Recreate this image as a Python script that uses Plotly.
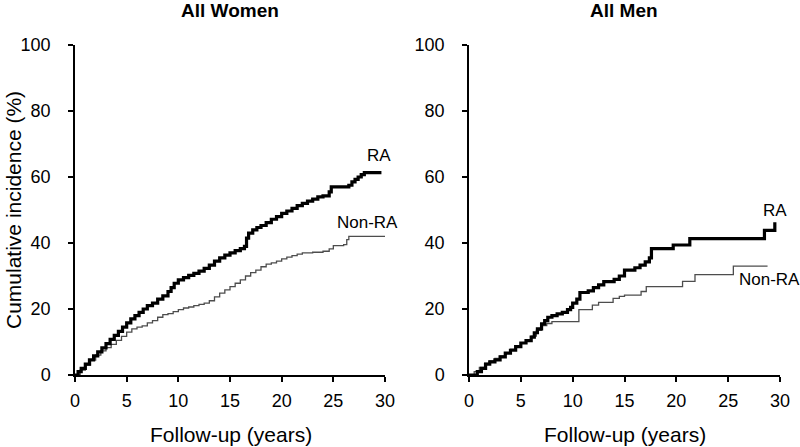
import plotly.graph_objects as go
from plotly.subplots import make_subplots

# %% Data (cumulative incidence, step points)
women_ra_t = [0, 0.3, 0.6, 1.0, 1.4, 1.8, 2.2, 2.6, 3.0, 3.4, 3.8, 4.2, 4.6, 5.0, 5.4, 5.8, 6.2, 6.6,
              7.0, 7.5, 8.0, 8.5, 9.0, 9.3, 9.6, 10.0, 10.5, 11.0, 11.5, 12.0, 12.5, 13.0, 13.5, 14.0,
              14.5, 15.0, 15.5, 16.0, 16.4, 16.6, 16.8, 17.2, 17.6, 18.0, 18.5, 19.0, 19.5, 20.0, 20.5,
              21.0, 21.5, 22.0, 22.5, 23.0, 23.5, 24.0, 24.6, 24.8, 25.5, 26.5, 26.8, 27.1, 27.4, 27.7,
              28.0, 29.4, 29.5]
women_ra_y = [0, 1.0, 2.0, 3.3, 4.6, 5.8, 7.0, 8.2, 9.5, 10.8, 12.0, 13.2, 14.5, 15.8, 17.0, 18.0, 19.0, 20.0,
              21.0, 21.8, 23.0, 24.0, 25.3, 26.5, 27.8, 28.8, 29.5, 30.2, 30.8, 31.5, 32.3, 33.3, 34.5, 35.5,
              36.3, 37.0, 37.7, 38.3, 39.0, 41.5, 43.0, 44.0, 44.7, 45.3, 46.2, 47.2, 48.0, 49.0, 49.7,
              50.5, 51.3, 52.0, 52.7, 53.3, 54.0, 54.3, 55.5, 57.0, 57.0, 57.5, 58.5, 59.3, 60.0, 60.7,
              61.3, 61.3, 61.8]

women_nonra_t = [0, 0.5, 1.0, 1.5, 2.0, 2.5, 3.0, 3.5, 4.0, 4.5, 5.0, 5.5, 6.0, 6.5, 7.0, 7.5, 8.0, 8.5, 9.0,
                 9.5, 10.0, 10.5, 11.0, 11.5, 12.0, 12.5, 13.0, 13.5, 14.0, 14.5, 15.0, 15.5, 16.0, 16.5,
                 17.0, 17.5, 18.0, 18.5, 19.0, 19.5, 20.0, 20.5, 21.0, 21.5, 22.0, 23.0, 24.0, 24.6, 25.0,
                 26.0, 26.3, 26.5, 30.0]
women_nonra_y = [0, 1.5, 3.0, 4.5, 6.0, 7.3, 8.3, 9.3, 10.5, 11.7, 13.0, 14.0, 14.5, 14.9, 15.8, 16.5, 17.5,
                 18.3, 18.6, 19.2, 19.8, 20.3, 20.6, 21.0, 21.4, 21.8, 22.5, 23.7, 24.8, 25.8, 26.8, 27.8,
                 28.8, 30.0, 31.0, 31.8, 32.8, 33.6, 34.0, 34.5, 35.2, 35.7, 36.2, 36.6, 37.0, 37.2, 37.5,
                 38.2, 39.2, 39.5, 41.0, 42.0, 42.0]

men_ra_t = [0, 0.5, 0.8, 1.2, 1.6, 2.0, 2.5, 3.0, 3.5, 4.0, 4.5, 5.0, 5.5, 6.0, 6.3, 6.6, 7.0, 7.3, 7.6,
            8.0, 8.5, 9.0, 9.5, 9.8, 10.0, 10.4, 10.7, 11.5, 12.0, 12.5, 13.0, 14.0, 14.5, 15.0, 16.0,
            16.5, 17.0, 17.4, 17.6, 19.7, 21.3, 28.5, 29.5]
men_ra_y = [0, 0, 1.0, 2.0, 3.3, 4.0, 4.6, 5.5, 6.6, 7.5, 8.6, 9.7, 10.4, 11.5, 12.8, 14.0, 15.5, 16.5, 17.5,
            18.0, 18.5, 19.0, 19.8, 20.5, 21.8, 23.0, 25.0, 25.5, 26.5, 27.3, 28.3, 29.0, 30.0, 31.8, 32.5,
            33.3, 34.3, 35.5, 38.3, 39.4, 41.3, 43.8, 46.3]

men_nonra_t = [0, 0.5, 1.0, 1.5, 2.0, 2.5, 3.0, 3.5, 4.0, 4.5, 5.0, 5.5, 6.0, 6.5, 7.0, 7.5, 8.0, 10.6,
               11.9, 12.5, 13.9, 14.5, 15.0, 16.6, 17.1, 20.6, 21.8, 25.5, 28.8]
men_nonra_y = [0, 1.0, 2.3, 3.5, 4.3, 5.0, 5.8, 6.8, 7.8, 8.8, 9.8, 10.6, 11.8, 13.5, 15.0, 15.6, 16.2, 19.8,
               21.2, 22.0, 23.2, 23.8, 24.2, 25.3, 26.8, 28.4, 30.4, 33.0, 33.0]

panel_titles = ['All Women', 'All Men']
x_ticks = [0, 5, 10, 15, 20, 25, 30]
y_ticks = [0, 20, 40, 60, 80, 100]

# %% Layout helpers (screen pixel -> paper)
W, H = 800, 447
def px_x(p):
    return p / W
def px_y(p):
    return 1 - p / H

FONT = 'Liberation Sans, Arial, Helvetica, sans-serif'

fig = make_subplots(1, 2)

fig.add_scatter(x=women_nonra_t, y=women_nonra_y, mode='lines', line=dict(color='#4d4d4d', width=1.3, shape='hv'),
                row=1, col=1)
fig.add_scatter(x=women_ra_t, y=women_ra_y, mode='lines', line=dict(color='black', width=3.2, shape='hv'),
                row=1, col=1)
fig.add_scatter(x=men_nonra_t, y=men_nonra_y, mode='lines', line=dict(color='#4d4d4d', width=1.3, shape='hv'),
                row=1, col=2)
fig.add_scatter(x=men_ra_t, y=men_ra_y, mode='lines', line=dict(color='black', width=3.2, shape='hv'),
                row=1, col=2)

axis_style = dict(showline=True, linecolor='black', linewidth=1.5, showgrid=False, zeroline=False,
                  ticks='outside', ticklen=5, tickwidth=1.5, tickcolor='black',
                  tickfont=dict(family=FONT, size=18, color='black'), automargin=False)

fig.update_xaxes(range=[0, 30], tickvals=x_ticks, ticklabelstandoff=4, **axis_style)
fig.update_yaxes(range=[0, 100], tickvals=y_ticks, ticklabelstandoff=14, **axis_style)

fig.update_layout(
    xaxis=dict(domain=[px_x(75), px_x(385)]),
    xaxis2=dict(domain=[px_x(469), px_x(780)]),
    yaxis=dict(domain=[px_y(375), px_y(45)]),
    yaxis2=dict(domain=[px_y(375), px_y(45)]),
    width=W, height=H,
    margin=dict(l=0, r=0, t=0, b=0),
    plot_bgcolor='white', paper_bgcolor='white',
    showlegend=False,
)

centered = dict(xref='paper', yref='paper', xanchor='center', yanchor='middle', showarrow=False)

# panel titles and axis titles
for title, xc in zip(panel_titles, [230, 624]):
    fig.add_annotation(text='<b>%s</b>' % title, x=px_x(xc), y=px_y(10),
                       font=dict(family=FONT, size=19, color='black'), **centered)
    fig.add_annotation(text='Follow-up (years)', x=px_x(xc + 1), y=px_y(434),
                       font=dict(family=FONT, size=21, color='black'), **centered)

fig.add_annotation(text='Cumulative incidence (%)', x=px_x(13), y=px_y(210), textangle=-90,
                   font=dict(family=FONT, size=21, color='black'), **centered)

# curve labels
label_font = dict(family=FONT, size=17, color='black')
fig.add_annotation(text='RA', x=29.4, y=66.6, xref='x', yref='y', showarrow=False, font=label_font)
fig.add_annotation(text='Non-RA', x=28.3, y=46.2, xref='x', yref='y', showarrow=False, font=label_font)
fig.add_annotation(text='RA', x=29.5, y=50.0, xref='x2', yref='y2', showarrow=False, font=label_font)
fig.add_annotation(text='Non-RA', x=29.0, y=29.0, xref='x2', yref='y2', showarrow=False, font=label_font)

# drop the browser's default 8px page margin so the figure sits at the window's corner
fig.write_html("out.html", config={'displayModeBar': False},
               post_script="document.body.style.margin = '0';")
